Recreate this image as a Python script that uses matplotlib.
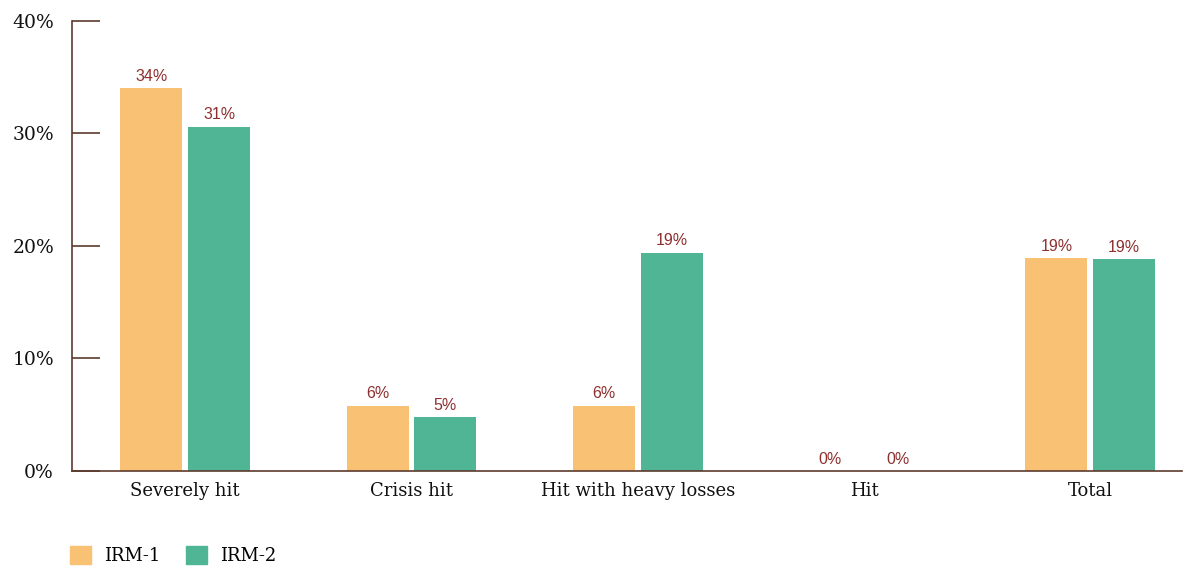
import numpy as np
import matplotlib.pyplot as plt
from matplotlib.patches import Patch

categories = ["Severely hit", "Crisis hit", "Hit with heavy losses", "Hit", "Total"]
irm1 = [34.0, 5.8, 5.8, 0.0, 18.9]
irm2 = [30.6, 4.8, 19.4, 0.0, 18.8]
series_names = ["IRM-1", "IRM-2"]
yticks = [0, 10, 20, 30, 40]

orange = "#F9C174"
green = "#50B594"
axis_col = "#5C3A2E"
label_col = "#8E2F2F"
serif = ["DejaVu Serif"]
sans = ["Liberation Sans", "DejaVu Sans"]

fig = plt.figure(figsize=(11.89, 5.67), dpi=100)
ax = fig.add_axes([0.0606, 0.1693, 0.9335, 0.7937])

x = np.arange(len(categories))
w = 0.274
off = 0.15
b1 = ax.bar(x - off, irm1, w, color=orange)
b2 = ax.bar(x + off, irm2, w, color=green)

for bars, vals in ((b1, irm1), (b2, irm2)):
    for b, v in zip(bars, vals):
        ax.text(b.get_x() + b.get_width() / 2, v + 0.4, f"{v:.0f}%",
                ha="center", va="bottom", fontsize=11.5, color=label_col,
                family=sans)

ax.set_xlim(-0.5, 4.405)
ax.set_ylim(0, 40)
ax.set_yticks(yticks)
ax.set_yticklabels([f"{t}%" for t in yticks], family=serif, fontsize=13.5)
ax.set_xticks(x)
ax.set_xticklabels(categories, family=serif, fontsize=13)

for s in ("top", "right"):
    ax.spines[s].set_visible(False)
for s in ("left", "bottom"):
    ax.spines[s].set_color(axis_col)
    ax.spines[s].set_linewidth(1.2)

ax.tick_params(axis="y", direction="in", length=20, width=1.2,
               color=axis_col, pad=13, labelcolor="#111111")
ax.tick_params(axis="x", length=0, pad=8, labelcolor="#111111")

handles = [Patch(color=orange), Patch(color=green)]
fig.legend(handles, series_names, loc="lower left",
           bbox_to_anchor=(0.045, -0.025), ncol=2, frameon=False,
           prop={"family": serif, "size": 13}, handlelength=1.2,
           handleheight=1.2, columnspacing=1.4, handletextpad=0.7)

fig.savefig("out.png", dpi=100)
